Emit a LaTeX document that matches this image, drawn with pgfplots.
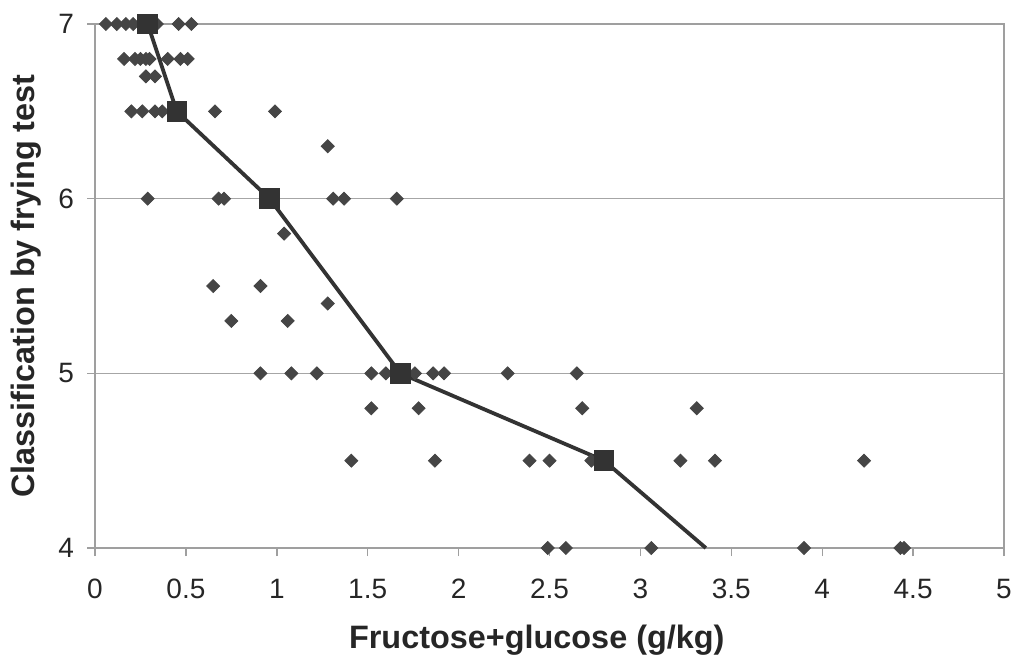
\documentclass[border=0pt]{standalone}
\usepackage{pgfplots}
\pgfplotsset{compat=1.18}
\usepackage{fontspec}
\setmainfont{Liberation Sans}
\definecolor{pt}{HTML}{454545}
\definecolor{ln}{HTML}{333333}
\begin{document}
\begin{tikzpicture}[x=1pt,y=1pt]
\path[use as bounding box] (0,0) rectangle (510.5,330);
\begin{axis}[
 at={(47.5pt,56pt)}, anchor=south west,
 width=454.5pt, height=262pt, scale only axis,
 xmin=0, xmax=5, ymin=4, ymax=7,
 xtick={0,0.5,1,1.5,2,2.5,3,3.5,4,4.5,5},
 ytick={4,5,6,7},
 tick align=outside, major tick length=4pt,
 xtick pos=bottom, ytick pos=left,
 ymajorgrids, grid style={gray!70, line width=0.6pt},
 axis line style={gray!75, line width=0.7pt},
 tick style={gray!75, line width=0.7pt},
 /pgf/number format/assume math mode=true,
 tick label style={font=\fontsize{14}{16}\selectfont, text=black!85},
 xticklabel style={yshift=-8pt},
 yticklabel style={xshift=-3pt},
 xlabel={Fructose+glucose (g/kg)},
 ylabel={Classification by frying test},
 label style={font=\bfseries\fontsize{16.2}{18}\selectfont, text=black!85},
 xlabel style={at={(axis description cs:0.486,-0.175)}, anchor=center},
 ylabel style={at={(axis description cs:-0.076,0.5)}, anchor=center},
 clip=false,
]
\addplot[only marks, mark=square*, mark size=2.3pt, color=pt,
  every mark/.append style={rotate=45}] coordinates {
 (0.06,7) (0.12,7) (0.17,7) (0.21,7) (0.25,7) (0.34,7) (0.46,7) (0.53,7)
 (0.16,6.8) (0.22,6.8) (0.25,6.8) (0.28,6.8) (0.30,6.8) (0.40,6.8) (0.47,6.8) (0.51,6.8)
 (0.28,6.7) (0.33,6.7)
 (0.20,6.5) (0.26,6.5) (0.33,6.5) (0.37,6.5) (0.66,6.5) (0.99,6.5)
 (1.28,6.3)
 (0.29,6) (0.68,6) (0.71,6) (1.31,6) (1.37,6) (1.66,6)
 (1.04,5.8)
 (0.65,5.5) (0.91,5.5)
 (1.28,5.4)
 (0.75,5.3) (1.06,5.3)
 (0.91,5) (1.08,5) (1.22,5) (1.52,5) (1.60,5) (1.76,5) (1.86,5) (1.92,5) (2.27,5) (2.65,5)
 (1.52,4.8) (1.78,4.8) (2.68,4.8) (3.31,4.8)
 (1.41,4.5) (1.87,4.5) (2.39,4.5) (2.50,4.5) (2.73,4.5) (3.22,4.5) (3.41,4.5) (4.23,4.5)
 (2.49,4) (2.59,4) (3.06,4) (3.90,4) (4.43,4) (4.45,4)
};
\addplot[color=ln, line width=1.9pt, mark=square*, mark size=4.2pt,
  mark options={solid, fill=ln}, mark indices={1,2,3,4,5}] coordinates {
 (0.29,7) (0.45,6.5) (0.96,6) (1.68,5) (2.80,4.5) (3.36,4)
};
\end{axis}
\end{tikzpicture}
\end{document}
